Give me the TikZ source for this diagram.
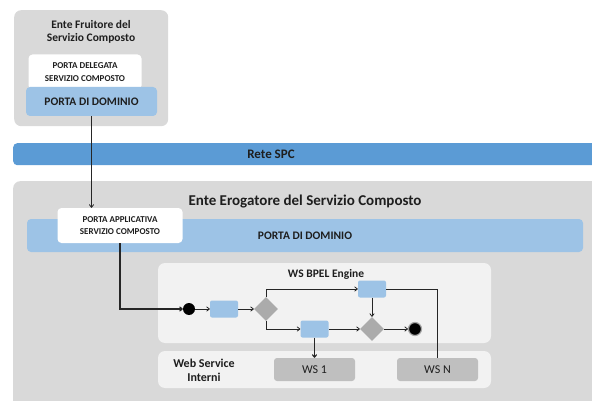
\documentclass[tikz,border=0pt]{standalone}
\usepackage{fontspec}
\setmainfont{Carlito}
\usetikzlibrary{shapes.geometric,arrows.meta}

\definecolor{entegray}{HTML}{D9D9D9}
\definecolor{panelgray}{HTML}{F2F2F2}
\definecolor{portablue}{HTML}{9DC3E6}
\definecolor{reteblue}{HTML}{5B9BD5}
\definecolor{wsgray}{HTML}{BFBFBF}
\definecolor{rombogray}{HTML}{ABABAB}
\definecolor{testo}{HTML}{1E1E1E}
\definecolor{linea}{HTML}{262626}

\tikzset{
	ente/.style={rectangle,rounded corners=7pt,fill=entegray,inner sep=0pt,anchor=north west},
	pannello/.style={rectangle,rounded corners=7pt,fill=panelgray,inner sep=0pt},
	porta/.style={rectangle,rounded corners=4pt,fill=portablue,inner sep=0pt,font=\bfseries\fontsize{11.5}{13}\selectfont},
	servizio/.style={rectangle,rounded corners=4pt,fill=white,inner sep=0pt,align=center,font=\bfseries\fontsize{9}{12.5}\selectfont},
	titolo/.style={align=center,inner sep=0pt,font=\bfseries\fontsize{11.5}{13}\selectfont},
	attivita/.style={rectangle,rounded corners=2pt,fill=portablue,minimum width=28pt,minimum height=17pt,inner sep=0pt},
	decisione/.style={diamond,fill=rombogray,minimum width=24pt,minimum height=24pt,inner sep=0pt},
	wsbox/.style={rectangle,rounded corners=3pt,fill=wsgray,minimum width=81pt,minimum height=23pt,inner sep=0pt,font=\fontsize{12}{14}\selectfont},
	flusso/.style={draw=linea,line width=0.8pt,-{To[length=3.5pt,width=5pt]}},
}

\begin{document}
\begin{tikzpicture}[x=1pt,y=-1pt,every node/.append style={text=testo}]
	\useasboundingbox (0,0) rectangle (592,401);
	\clip (0,0) rectangle (592,401);

	% ente fruitore
	\node[ente,minimum width=154pt,minimum height=116pt] (fruitore) at (14,10) {};
	\node[titolo] (tfruitore) at (91,31.5) {Ente Fruitore del\\Servizio Composto};
	\node[servizio,minimum width=113pt,minimum height=35pt] (delegata) at (85,72)
		{PORTA DELEGATA\\SERVIZIO COMPOSTO};
	\node[porta,minimum width=131pt,minimum height=29pt] (pdd1) at (91.5,101.5) {PORTA DI DOMINIO};

	% rete
	\node[rectangle,rounded corners=4pt,fill=reteblue,inner sep=0pt,anchor=north west,
		minimum width=620pt,minimum height=22pt] (rete) at (13,143) {};
	\node[font=\bfseries\fontsize{13}{15}\selectfont,inner sep=0pt] (trete) at (271,154) {Rete SPC};

	% ente erogatore
	\node[ente,minimum width=620pt,minimum height=240pt] (erogatore) at (13,181) {};
	\node[titolo,font=\bfseries\fontsize{15}{17}\selectfont] (terogatore) at (305,202)
		{Ente Erogatore del Servizio Composto};
	\node[porta,minimum width=556pt,minimum height=33pt] (pdd2) at (305,235.5) {PORTA DI DOMINIO};
	\node[servizio,minimum width=125pt,minimum height=35pt] (applicativa) at (120,225.5)
		{PORTA APPLICATIVA\\SERVIZIO COMPOSTO};

	% pannelli
	\node[pannello,minimum width=333pt,minimum height=80pt] (bpel) at (324.5,303) {};
	\node[titolo] (tbpel) at (326,274) {WS BPEL Engine};
	\node[pannello,minimum width=333pt,minimum height=37pt] (interni) at (324.5,369.5) {};
	\node[titolo,font=\bfseries\fontsize{12}{14}\selectfont] (tinterni) at (204,370) {Web Service\\Interni};
	\node[wsbox] (ws1) at (314.5,369.5) {WS 1};
	\node[wsbox] (wsn) at (437.5,369.5) {WS N};

	% processo
	\node[circle,fill=black,minimum size=12pt,inner sep=0pt] (inizio) at (189,309) {};
	\node[attivita] (att1) at (224,309) {};
	\node[decisione] (dec1) at (266,309) {};
	\node[attivita] (att3) at (372,289) {};
	\node[attivita] (att2) at (314.5,329) {};
	\node[decisione] (dec2) at (372,329) {};
	\node[circle,fill=black,draw=black!35,line width=1.2pt,minimum size=13pt,inner sep=0pt] (fine) at (415,329) {};

	\draw[flusso] (pdd1.south) -- (pdd1.south |- applicativa.north);
	\draw[flusso,line width=1.2pt] (applicativa.south) |- (inizio.west);
	\draw[flusso] (inizio) -- (att1);
	\draw[flusso] (att1) -- (dec1);
	\draw[flusso] (dec1.north) |- (att3.west);
	\draw[flusso] (dec1.south) |- (att2.west);
	\draw[flusso] (att2) -- (dec2);
	\draw[flusso] (att3) -- (dec2);
	\draw[flusso] (dec2) -- (fine);
	\draw[flusso,line width=1.2pt] (att2.south) -- (att2.south |- ws1.north);
	\draw[draw=linea,line width=0.8pt] (att3.east) -| (wsn.north);
\end{tikzpicture}
\end{document}
